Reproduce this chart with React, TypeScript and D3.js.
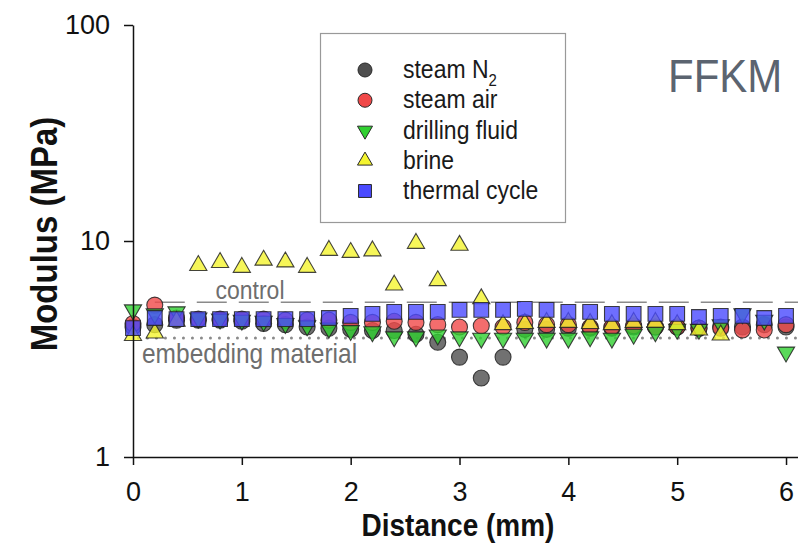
import * as d3 from "d3";
import React, { useEffect, useRef } from "react";

// distance along the sample (mm)
const distance = [
  0, 0.2, 0.4, 0.6, 0.8, 1.0, 1.2, 1.4, 1.6, 1.8, 2.0, 2.2, 2.4, 2.6, 2.8, 3.0,
  3.2, 3.4, 3.6, 3.8, 4.0, 4.2, 4.4, 4.6, 4.8, 5.0, 5.2, 5.4, 5.6, 5.8, 6.0,
];

const steamN2 = [
  4.0, 4.1, 4.3, 4.3, 4.3, 4.25, 4.15, 4.1, 4.0, 3.95, 3.9, 3.85, 3.85, 3.7, 3.4,
  2.9, 2.32, 2.9, 3.9, 3.9, 3.95, 3.95, 3.95, 4.0, 4.0, 4.0, 3.95, 4.0, 4.0, 4.1, 4.0,
];
const steamAir = [
  4.15, 5.05, 4.4, 4.35, 4.35, 4.35, 4.35, 4.3, 4.3, 4.3, 4.2, 4.2, 4.25, 4.2, 4.1,
  4.0, 4.05, 4.0, 4.2, 4.1, 4.1, 4.0, 4.0, 4.05, 4.0, 4.0, 3.95, 3.95, 3.87, 3.87, 4.1,
];
const drillingFluid = [
  4.8, 4.6, 4.7, 4.4, 4.35, 4.3, 4.25, 4.15, 4.05, 3.95, 3.85, 3.8, 3.6, 3.6, 3.67,
  3.6, 3.55, 3.55, 3.55, 3.55, 3.55, 3.6, 3.55, 3.7, 3.8, 3.9, 3.9, 4.1, 4.6, 4.3, 3.06,
];
const brine = [
  3.65, 3.75, 4.25, 7.7, 7.95, 7.55, 8.15, 8.0, 7.55, 9.05, 8.85, 9.0, 6.25, 9.75, 6.55,
  9.55, 5.4, 4.1, 4.15, 4.2, 4.2, 4.15, 4.1, 4.2, 4.2, 4.1, 3.87, 3.67,
];
const thermalCycle = [
  3.95, 4.4, 4.35, 4.35, 4.35, 4.35, 4.35, 4.35, 4.35, 4.4, 4.5, 4.6, 4.7, 4.7, 4.7,
  4.8, 4.8, 4.8, 4.85, 4.8, 4.7, 4.7, 4.6, 4.6, 4.6, 4.6, 4.45, 4.5, 4.5, 4.4, 4.5,
];

const seriesNames = ["steam N", "steam air", "drilling fluid", "brine", "thermal cycle"];
const seriesValues = [steamN2, steamAir, drillingFluid, brine, thermalCycle];
const seriesColors = ["#4e4e4e", "#f04848", "#30d030", "#f4f430", "#4a4aff"];
const seriesShapes = ["circle", "circle", "down", "up", "square"];

const xTicks = [0, 1, 2, 3, 4, 5, 6];
const yTicks = [1, 10, 100];

const controlLevel = 5.2;
const embeddingLevel = 3.56;

const shapePath = (shape, size) => {
  if (shape === "circle") return d3.symbol(d3.symbolCircle, size * size * 0.785)();
  if (shape === "square") return d3.symbol(d3.symbolSquare, size * size * 0.85)();
  return d3.symbol(d3.symbolTriangle, size * size * 0.5)();
};

const App = () => {
  const svgRef = useRef(null);

  useEffect(() => {
    const svg = d3.select(svgRef.current);
    svg.selectAll("*").remove();

    const x = d3.scaleLinear().domain([0, 6.11]).range([133, 798]);
    const y = d3.scaleLog().domain([1, 100]).range([457, 25]);

    const font = "Liberation Sans, Arial, sans-serif";

    // text that looks a bit taller than wide, like the source image
    const tallText = (tx, ty, size, str, opts = {}) =>
      svg
        .append("text")
        .attr("transform", `translate(${tx},${ty}) scale(1,1.12)`)
        .attr("text-anchor", opts.anchor || "start")
        .attr("font-family", font)
        .attr("font-weight", opts.weight || "normal")
        .attr("font-size", size)
        .attr("fill", opts.fill || "#111")
        .text(str);

    // reference lines
    svg
      .append("line")
      .attr("x1", x(0.2))
      .attr("x2", 798)
      .attr("y1", y(controlLevel))
      .attr("y2", y(controlLevel))
      .attr("stroke", "#8a8a8a")
      .attr("stroke-width", 1.5)
      .attr("stroke-dasharray", "30 12");

    svg
      .append("line")
      .attr("x1", x(0.05))
      .attr("x2", 798)
      .attr("y1", y(embeddingLevel))
      .attr("y2", y(embeddingLevel))
      .attr("stroke", "#8a8a8a")
      .attr("stroke-width", 3)
      .attr("stroke-linecap", "round")
      .attr("stroke-dasharray", "0 9");

    tallText(250, y(controlLevel) - 3, 23, "control", { anchor: "middle", fill: "#6e6e6e" });
    tallText(142, y(embeddingLevel) + 25, 24.5, "embedding material", { fill: "#6e6e6e" });

    // data markers
    seriesValues.forEach((vals, i) => {
      const pts = vals.map((v, j) => ({ d: distance[j], v }));
      svg
        .append("g")
        .selectAll("path")
        .data(pts)
        .enter()
        .append("path")
        .attr("d", shapePath(seriesShapes[i], 16))
        .attr(
          "transform",
          (p) =>
            `translate(${x(p.d)},${y(p.v)})` +
            (seriesShapes[i] === "down" ? " rotate(180)" : "")
        )
        .attr("fill", seriesColors[i])
        .attr("fill-opacity", 0.8)
        .attr("stroke", "#222")
        .attr("stroke-opacity", 0.85)
        .attr("stroke-width", 1.1);
    });

    // axes
    const yAxis = svg
      .append("g")
      .attr("transform", `translate(133,0)`)
      .call(
        d3
          .axisLeft(y)
          .tickValues(yTicks)
          .tickFormat(d3.format("d"))
          .tickSize(9)
          .tickSizeOuter(0)
          .tickPadding(14)
      );
    yAxis.select(".domain").attr("stroke", "#111").attr("stroke-width", 1.5);
    yAxis.selectAll(".tick line").attr("stroke", "#111").attr("stroke-width", 1.5);
    yAxis
      .selectAll(".tick text")
      .attr("font-family", font)
      .attr("font-size", 27)
      .attr("fill", "#111");

    const xAxis = svg
      .append("g")
      .attr("transform", `translate(0,457)`)
      .call(
        d3
          .axisBottom(x)
          .tickValues(xTicks)
          .tickFormat(d3.format("d"))
          .tickSize(8)
          .tickSizeOuter(0)
          .tickPadding(17)
      );
    xAxis.select(".domain").attr("stroke", "#111").attr("stroke-width", 1.5);
    xAxis.selectAll(".tick line").attr("stroke", "#111").attr("stroke-width", 1.5);
    xAxis
      .selectAll(".tick text")
      .attr("font-family", font)
      .attr("font-size", 27)
      .attr("fill", "#111");

    svg
      .append("text")
      .attr("transform", "translate(57,234) scale(1.12,1) rotate(-90)")
      .attr("text-anchor", "middle")
      .attr("font-family", font)
      .attr("font-weight", "bold")
      .attr("font-size", 33)
      .attr("fill", "#111")
      .text("Modulus (MPa)");

    tallText(458, 536, 28, "Distance (mm)", { anchor: "middle", weight: "bold" });

    tallText(668, 92, 42, "FFKM", { fill: "#5b6470" });

    // legend
    const legend = svg.append("g");
    legend
      .append("rect")
      .attr("x", 320.5)
      .attr("y", 33.5)
      .attr("width", 245)
      .attr("height", 189)
      .attr("fill", "#fff")
      .attr("stroke", "#999")
      .attr("stroke-width", 1.2);

    const rowY = d3.scalePoint().domain(seriesNames).range([70, 191]);
    seriesNames.forEach((name, i) => {
      const ry = rowY(name);
      legend
        .append("path")
        .attr("d", shapePath(seriesShapes[i], 14))
        .attr(
          "transform",
          `translate(365,${ry})` + (seriesShapes[i] === "down" ? " rotate(180)" : "")
        )
        .attr("fill", seriesColors[i])
        .attr("stroke", "#2a2a2a")
        .attr("stroke-width", 1);
      const t = legend
        .append("text")
        .attr("transform", `translate(403,${ry + 8}) scale(1,1.1)`)
        .attr("font-family", font)
        .attr("font-size", 23)
        .attr("fill", "#1a1a1a")
        .text(name);
      if (i === 0) {
        t.append("tspan").attr("dy", 7).attr("font-size", 15).text("2");
      }
    });
  }, []);

  return (
    <svg
      ref={svgRef}
      width="798"
      height="546"
      style={{ position: "absolute", left: 0, top: 0, background: "#fff" }}
    ></svg>
  );
};

export default App;
